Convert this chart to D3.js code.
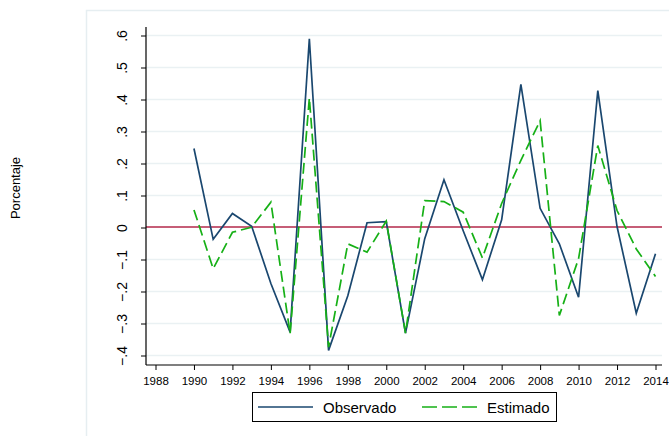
<!DOCTYPE html>
<html lang="es">
<head>
<meta charset="UTF-8">
<title>Observado vs Estimado</title>
<script src="https://d3js.org/d3.v7.min.js"></script>
<style>
  body { margin: 0; background: #fff; }
  svg { display: block; font-family: "Liberation Sans", Arial, sans-serif; }
</style>
</head>
<body>
<svg id="chart" width="669" height="436"></svg>
<script>
// data
const years = d3.range(1990, 2015);
const observado = [0.247, -0.037, 0.044, 0.004, -0.175, -0.327, 0.59, -0.384, -0.213, 0.015, 0.018,
  -0.33, -0.035, 0.149, -0.01, -0.163, 0.024, 0.447, 0.06, -0.051, -0.218, 0.428, 0.003, -0.268, -0.082];
const estimado = [0.055, -0.129, -0.015, 0.001, 0.079, -0.332, 0.405, -0.374, -0.051, -0.077, 0.02,
  -0.33, 0.084, 0.081, 0.048, -0.095, 0.075, 0.21, 0.334, -0.275, -0.097, 0.256, 0.053, -0.067, -0.153];
const yTicks = [-0.4, -0.3, -0.2, -0.1, 0, 0.1, 0.2, 0.3, 0.4, 0.5, 0.6];
const xTicks = d3.range(1988, 2015, 2);

const svg = d3.select("#chart");

// outer panel
svg.append("rect")
  .attr("x", 86.5).attr("y", 10.5)
  .attr("width", 700).attr("height", 500)
  .attr("fill", "#fff").attr("stroke", "#e6eef1").attr("stroke-width", 1.5);

const x = d3.scaleLinear().domain([1988, 2014]).range([155.5, 655.5]);
const y = d3.scaleLinear().domain([-0.4, 0.6]).range([355.5, 35.5]);

const plotL = 146, plotR = 662, plotT = 27, plotB = 365;

// grid
svg.append("g").selectAll("line")
  .data(yTicks.filter(d => d !== 0)).enter()
  .append("line")
  .attr("x1", plotL).attr("x2", plotR)
  .attr("y1", d => y(d)).attr("y2", d => y(d))
  .attr("stroke", "#eaf1f3").attr("stroke-width", 1.5);

// zero line
svg.append("line")
  .attr("x1", plotL).attr("x2", plotR)
  .attr("y1", y(0) - 0.5).attr("y2", y(0) - 0.5)
  .attr("stroke", "#b3284a").attr("stroke-width", 1.4);

// y axis
const yAxis = svg.append("g")
  .attr("transform", "translate(" + plotL + ",0)")
  .call(d3.axisLeft(y).tickValues(yTicks).tickSize(5).tickSizeOuter(0)
    .tickFormat(d => d === 0 ? "0" : d3.format(".1f")(d).replace("0.", ".")));
yAxis.select(".domain").remove();
yAxis.append("line").attr("x1", 0).attr("x2", 0).attr("y1", plotT).attr("y2", plotB)
  .attr("stroke", "#000").attr("stroke-width", 1.2);
yAxis.selectAll(".tick line").attr("stroke", "#000");
yAxis.selectAll(".tick text")
  .attr("font-size", 14).attr("fill", "#000")
  .attr("text-anchor", "middle")
  .attr("transform", "translate(-24,0) rotate(-90)")
  .attr("x", 0).attr("dy", "0.35em");

// x axis
const xAxis = svg.append("g")
  .attr("transform", "translate(0," + plotB + ")")
  .call(d3.axisBottom(x).tickValues(xTicks).tickSize(5).tickSizeOuter(0).tickFormat(d3.format("d")));
xAxis.select(".domain").remove();
xAxis.append("line").attr("x1", plotL).attr("x2", plotR).attr("y1", 0).attr("y2", 0)
  .attr("stroke", "#000").attr("stroke-width", 1.2);
xAxis.selectAll(".tick line").attr("stroke", "#000");
xAxis.selectAll(".tick text").attr("font-size", 11.5).attr("fill", "#000").attr("y", 12);

// y title
svg.append("text")
  .attr("transform", "translate(19.5,188) rotate(-90)")
  .attr("text-anchor", "middle")
  .attr("font-size", 13)
  .text("Porcentaje");

// lines
const line = d3.line().x((d, i) => x(years[i])).y(d => y(d));

svg.append("path").datum(observado)
  .attr("d", line).attr("fill", "none")
  .attr("stroke", "#1a476f").attr("stroke-width", 1.7);

svg.append("path").datum(estimado)
  .attr("d", line).attr("fill", "none")
  .attr("stroke", "#16b016").attr("stroke-width", 1.7)
  .attr("stroke-dasharray", "11,5");

// legend
const lg = svg.append("g");
lg.append("rect").attr("x", 252.5).attr("y", 392.5).attr("width", 304).attr("height", 29)
  .attr("fill", "#fff").attr("stroke", "#000").attr("stroke-width", 1);
lg.append("line").attr("x1", 258).attr("x2", 313).attr("y1", 407).attr("y2", 407)
  .attr("stroke", "#1a476f").attr("stroke-width", 1.7);
lg.append("text").attr("x", 323).attr("y", 412.5).attr("font-size", 15).text("Observado");
lg.append("line").attr("x1", 422).attr("x2", 477).attr("y1", 407).attr("y2", 407)
  .attr("stroke", "#16b016").attr("stroke-width", 1.7).attr("stroke-dasharray", "15,5");
lg.append("text").attr("x", 487).attr("y", 412.5).attr("font-size", 15).text("Estimado");
</script>
</body>
</html>
